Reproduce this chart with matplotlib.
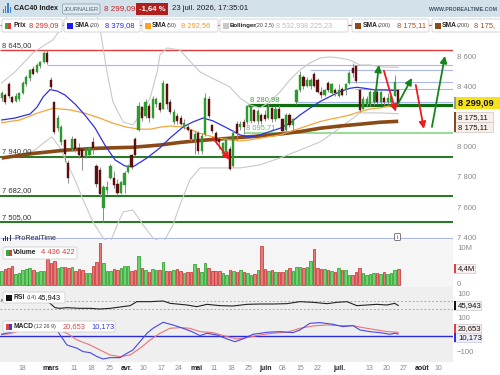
import matplotlib
matplotlib.use("Agg")
import matplotlib.pyplot as plt
import matplotlib.transforms as mtransforms
from matplotlib.patches import Rectangle, FancyBboxPatch
import numpy as np

plt.rcParams['font.family'] = ['Liberation Sans', 'DejaVu Sans']

# ---------------- data ----------------
opens = [8330,8350,8420,8335,8310,8320,8365,8420,8460,8520,
         8500,8545,8570,8630,8450,8300,8130,8035,8050,7900,
         7990,8060,7995,7990,7945,7950,8040,7880,7850,7600,
         7720,7800,7800,7760,7700,7750,7840,7950,8060,8120,
         8270,8210,8280,8200,8290,8295,8260,8420,8300,8170,
         8210,8200,8140,8140,8115,8060,8100,7980,8090,8320,
         8150,8100,8060,7960,7970,7990,7880,8160,8140,8170,
         8170,8180,8250,8180,8220,8215,8200,8265,8190,8260,
         8190,8115,8220,8150,8300,8380,8470,8410,8410,8490,
         8450,8370,8350,8430,8360,8385,8345,8390,8390,8430,
         8530,8540,8380,8260,8290,8290,8300,8370,8300,8330,
         8300,8300,8345,8380]
closes = [8360,8300,8340,8305,8345,8360,8430,8470,8515,8490,
          8550,8570,8625,8570,8400,8105,8200,8140,7960,7800,
          8060,7990,7950,7940,7990,8000,8000,7760,7690,7740,
          7740,7880,7750,7700,7775,7835,7880,7875,7955,8280,
          8200,8300,8200,8320,8320,8250,8430,8290,8235,8240,
          8175,8160,8165,8120,8060,8090,7975,8080,8330,8210,
          8110,8040,8040,8030,8050,7860,8100,8100,8160,8140,
          8275,8270,8180,8245,8180,8190,8270,8190,8260,8200,
          8110,8220,8150,8190,8380,8480,8410,8450,8450,8410,
          8370,8350,8380,8380,8420,8360,8385,8350,8420,8495,
          8495,8440,8250,8320,8320,8370,8370,8300,8370,8300,
          8330,8340,8437,8299.09]
highs = [8375,8365,8435,8345,8360,8370,8440,8480,8525,8540,
         8560,8575,8640,8645,8470,8310,8215,8150,8060,7920,
         8075,8065,8030,8000,8000,8010,8070,7890,7870,7750,
         7780,7890,7845,7790,7780,7845,7890,7960,8070,8300,
         8275,8320,8295,8340,8335,8305,8450,8430,8320,8255,
         8230,8215,8190,8160,8125,8110,8110,8100,8360,8345,
         8160,8110,8070,8040,8070,8010,8120,8175,8180,8190,
         8285,8280,8260,8255,8230,8250,8290,8270,8275,8285,
         8200,8230,8230,8200,8390,8510,8480,8470,8460,8500,
         8460,8400,8390,8440,8430,8395,8420,8400,8430,8510,
         8560,8550,8390,8340,8345,8385,8390,8385,8375,8340,
         8360,8345,8480,8385]
lows = [8310,8290,8330,8295,8300,8310,8355,8410,8445,8480,
        8495,8530,8560,8555,8380,8090,8110,8020,7905,7765,
        7980,7970,7930,7855,7930,7945,7960,7740,7670,7505,
        7690,7790,7735,7685,7690,7700,7830,7860,7945,8110,
        8180,8200,8170,8195,8270,8240,8255,8260,8225,8160,
        8160,8150,8125,8110,8045,7960,7960,7960,8080,8200,
        8095,8025,7990,7950,7960,7850,7870,8050,8120,8090,
        8160,8165,8170,8160,8160,8180,8190,8170,8180,8195,
        8095,8105,8140,8110,8290,8370,8390,8400,8390,8400,
        8360,8330,8340,8370,8350,8345,8335,8345,8350,8425,
        8470,8430,8235,8255,8270,8280,8285,8290,8290,8285,
        8290,8285,8340,8285]
volume_m = [3.81,4.36,4.72,5.09,2.91,3.36,4.09,4.27,4.72,4.09,
            3.45,3.72,3.81,6.99,6.09,6.54,4.72,4.81,4.90,4.72,
            4.81,3.72,4.45,4.09,3.36,3.36,5.27,6.18,11.35,6.09,
            3.81,3.90,4.36,4.00,4.54,5.09,5.09,3.81,4.00,7.90,
            4.54,4.00,3.45,4.27,4.09,4.09,6.27,3.81,3.81,4.18,
            4.27,3.81,3.36,3.45,3.54,5.63,4.63,3.54,5.90,4.63,
            3.72,3.81,3.81,3.36,2.72,4.09,3.90,3.54,4.09,3.63,
            3.36,2.72,3.00,4.00,10.72,4.36,3.90,4.09,3.54,3.54,
            3.54,4.00,4.54,3.90,4.99,4.90,4.63,4.81,6.54,9.81,
            4.63,4.27,4.36,4.00,3.90,3.63,4.63,4.18,4.09,2.63,
            2.72,3.45,4.63,3.27,2.72,3.00,3.18,3.36,3.09,3.45,
            3.00,3.18,4.00,4.436422]

sma20_x = [0,3.8,8.1,10.1,11.8,13.8,15.8,18.0,20.9,23.7,26.6,29.4,32.3,35.1,37.4,41.4,45.1,48.0,51.7,54.5,
           57.4,60.2,64.2,67.9,70.7,73.6,76.4,79.3,82.1,85.0,87.8,90.7,93.5,96.4,99.2,101.2,103.5,106.4,109.2,113]
sma20_y = [8184,8197,8224,8270,8337,8386,8376,8350,8290,8217,8131,8018,7919,7879,7873,7932,7999,8065,8138,8171,
           8197,8178,8131,8085,8071,8085,8107,8129,8162,8217,8262,8306,8339,8372,8394,8401,8394,8383,8383,8379.08]
sma50_x = [0,5.2,10.1,14.6,19.5,23.7,28.0,31.7,35.7,39.4,42.3,45.1,48.0,50.8,53.6,56.5,59.3,62.2,65.0,67.9,
           70.7,73.6,76.4,79.3,82.1,85.0,87.8,90.7,93.5,96.4,99.2,102.1,104.9,107.8,110.6,113]
sma50_y = [8166,8184,8229,8262,8251,8229,8196,8162,8136,8123,8123,8136,8144,8140,8123,8096,8078,8063,8052,8045,
           8052,8063,8074,8085,8107,8129,8151,8173,8189,8202,8217,8239,8257,8264,8277,8292.56]
sma200_x = [0,9,18.6,28,37.4,45.1,50.8,56.5,62.2,67.9,73.6,79.3,85,90.7,96.4,102.1,107.8,113]
sma200_y = [7932,7962,7985,7997,8003,8018,8035,8048,8058,8068,8078,8091,8107,8129,8144,8156,8169,8175.11]
boll_up_x = [0,3.8,8.9,12.3,14.6,16.6,18.6,20.9,23.7,26,27.2,28,30,31.7,34.6,37.4,39.4,42.3,44.3,45.1,
             47.1,50.8,52.8,56.5,59.3,62.2,65,67.9,70.7,73.6,76.4,79.3,82.1,85,87.8,90.7,93.5,96.4,99.2,102.1,
             104.9,107.8,113]
boll_up_y = [8430,8503,8629,8682,8715,8781,8867,8950,9000,8950,8880,8794,8503,8304,8171,8151,8217,8330,8503,8615,
             8662,8648,8595,8503,8469,8436,8403,8330,8284,8264,8304,8370,8449,8516,8562,8595,8602,8595,8582,8549,
             8549,8536,8532.93]
boll_lo_x = [0,5.2,9.5,12.3,14.3,16.6,18.6,20.9,23.2,26,28.9,30.9,32.9,34.6,37.4,40.3,43.1,46,48.8,50.8,
             53.6,56.5,62.2,67.9,73.6,79.3,85,90.7,96.4,102.1,107.8,113]
boll_lo_y = [7932,7946,7985,8038,8072,7999,7899,7786,7654,7508,7402,7369,7488,7574,7587,7488,7402,7369,7488,7621,
             7786,7866,7866,7866,7886,7932,7985,8038,8131,8231,8231,8225.23]
rsi_x = [0,0.4,5.2,9.5,12.3,13.8,15.2,16.6,18.6,22.3,25.2,28,30.9,33.7,36.6,38.5,42.3,46,48,52.8,
         55.6,58.5,62.2,65.9,69.9,73.6,77.3,81.3,85,88.7,92.7,95.5,98.4,101.2,104.1,106.9,109.8,112,113]
rsi_y = [73.5,73.5,68,70,72,56.8,35.2,31.8,35.2,31.8,31.8,28.5,31.8,38.5,45.2,65.2,65.2,68.5,56.8,48.5,
         40.2,51.8,45.2,43.5,51.8,53.5,53.5,55.2,65.2,61.8,55.2,61.8,65.2,45.2,48.5,51.8,48.5,56.8,45.943]
macd_x = [0,2.4,6.6,10.9,13.8,16,18.6,21.5,23.2,25.2,27.2,28.9,30.9,33.7,35.7,37.4,39.4,41.4,43.1,46,
          48.8,51.7,54.2,56.5,58.5,61.3,64.2,66.5,68.7,71.6,75.6,79.3,83,85,87.8,90.7,94.4,97.2,100.1,102.1,
          104.9,107.8,110.6,112,113]
macd_y = [8.7,20,40,60,65,24.3,-53.4,-72.8,-92.2,-98.1,-121.4,-135,-127.2,-127.2,-101.9,-82.5,-34,14.6,43.7,78.6,
          63.1,43.7,24.3,1,14.6,4.9,-18.4,-34,-18.4,8.7,20.4,24.3,18.4,34,72.8,76.7,67,53.4,59.2,34,
          24.3,18.4,8.7,14.6,10.173]
signal_x = [0,2.4,4.4,8.1,12.3,15.2,18.6,21.5,25.2,28,30.9,33.7,36.6,39.4,42.3,45.1,48,50.8,53.6,56.5,
            60.2,64.2,67,69.9,73.6,77.3,81.3,85,88.7,92.7,96.4,100.1,102.9,105.8,109.8,113]
signal_y = [8.7,12,24.3,40,55,40,14.6,-24.3,-53.4,-82.5,-111.7,-121.4,-111.7,-72.8,-24.3,14.6,43.7,47.6,43.7,24.3,
            18.4,-4.9,-18.4,-10.7,4.9,14.6,20.4,43.7,57.3,63.1,59.2,59.2,47.6,37.9,24.3,20.653]

tick_pos = [5.9,14.0,20.6,25.6,30.7,35.7,40.5,45.5,50.5,55.6,60.4,65.3,70.3,75.2,80.1,85.0,90.0,96.2,104.7,109.7,114.6,119.7,124.5]
tick_lab = ['18','mars','11','18','25','avr.','10','17','24','mai','11','18','25','juin','08','15','22','juil.','13','20','27','août','10']
month_labels = {'mars','avr.','mai','juin','juil.','août'}

# horizontal levels: (price, start index, colour, width)
levels = [(8814,-1,'#e23b3b',0.9),(8645,-1,'#e23b3b',1.0),(8549,12.9,'#aab6f0',0.8),(8516,87.8,'#aab6f0',0.8),
          (8433,98.4,'#aab6f0',0.8),(8388,100.7,'#aab6f0',0.8),(8304,84.1,'#aab6f0',0.8),(7400,-1,'#aab6f0',0.8),
          (8280.98,70.2,'#0e6e0e',2.3),(8095.71,69.3,'#7ad37a',1.1),
          (7940,-1,'#0e6e0e',1.3),(7682,-1,'#0e6e0e',1.3),(7505,-1,'#0e6e0e',1.3)]
level_labels = [(8645,'8 645,00'),(7940,'7 940,00'),(7682,'7 682,00'),(7505,'7 505,00')]
arrows = [(106.3,8306,107.5,8549,'#13861a'),(108.9,8511,112.3,8239,'#ee1c1c'),(112.9,8290,116.9,8463,'#13861a'),
          (118.0,8416,120.3,8125,'#ee1c1c'),(122.6,8138,126.3,8609,'#13861a'),(60.2,8065,65.0,7919,'#ee1c1c')]

# ---------------- figure ----------------
W, H = 500, 375
fig = plt.figure(figsize=(5, 3.75), dpi=100)
fig.patch.set_facecolor('white')

def rect(y0, y1, x0=0.0, x1=453.0):
    return [x0 / W, 1 - y1 / H, (x1 - x0) / W, (y1 - y0) / H]

XMIN, XMAX = -0.48, 128.6
ax = fig.add_axes(rect(17, 240))
axv = fig.add_axes(rect(240, 287))
axr = fig.add_axes(rect(287, 316))
axm = fig.add_axes(rect(316, 362))
for a, fc in ((ax, 'white'), (axv, '#f5f5f5'), (axr, '#efefef'), (axm, '#efefef')):
    a.set_xlim(XMIN, XMAX)
    a.set_facecolor(fc)
    for s in a.spines.values():
        s.set_visible(False)
    a.set_xticks([])
    a.set_yticks([])
ax.set_ylim(7388, 8867)
axv.set_ylim(-0.545e6, 12.26e6)
axr.set_ylim(-6.5, 138.5)
axm.set_ylim(-152.6, 115.3)

o = np.array(opens, float); c = np.array(closes, float)
hi = np.array(highs, float); lo = np.array(lows, float)
idx = np.arange(len(c))
up = c >= o

# levels
for p, x0, col, lw in levels:
    ax.hlines(p, max(x0, XMIN), XMAX, color=col, lw=lw, zorder=2)
tr_lab = mtransforms.blended_transform_factory(ax.transAxes, ax.transData)
for p, s in level_labels:
    ax.text(0.004, p + 10, s, transform=tr_lab, fontsize=5.4, color='#333333', va='bottom', ha='left', zorder=6)
ax.text(70.8, 8281 + 12, '8 280,98', fontsize=5.4, color='#3f9f3f', va='bottom', ha='left', zorder=6)
ax.text(69.6, 8096 + 12, '8 095,71', fontsize=5.4, color='#5cbf5c', va='bottom', ha='left', zorder=6)

# indicator lines
ax.plot(boll_up_x, boll_up_y, color='#c9c9c9', lw=0.8, zorder=2.5)
ax.plot(boll_lo_x, boll_lo_y, color='#c9c9c9', lw=0.8, zorder=2.5)
ax.plot(sma200_x, sma200_y, color='#8a4a17', lw=2.6, zorder=3, solid_capstyle='butt')
ax.plot(sma50_x, sma50_y, color='#f6a53a', lw=0.9, zorder=3)
ax.plot(sma20_x, sma20_y, color='#2f2fe6', lw=0.9, zorder=3)

# candles
body_col = np.where(up, '#2f9a2f', '#5a0e0e')
ax.vlines(idx, lo, hi, color='#8c8c8c', lw=0.7, zorder=4)
ax.bar(idx, np.maximum(np.abs(c - o), 6), bottom=np.minimum(o, c), width=0.62,
       color=body_col, edgecolor=body_col, lw=0.3, zorder=5)

for x0, y0, x1, y1, col in arrows:
    ax.annotate('', xy=(x1, y1), xytext=(x0, y0),
                arrowprops=dict(arrowstyle='-|>', color=col, lw=1.3, mutation_scale=10,
                                shrinkA=0, shrinkB=0), zorder=7)

# volume
vol = np.array(volume_m) * 1e6
axv.bar(idx, vol, width=0.72, color=np.where(up, '#6fd06f', '#e77a7a'),
        edgecolor=np.where(up, '#1f9a1f', '#c42a2a'), lw=0.5)

# RSI
axr.axhline(70, color='#aaaaaa', lw=0.7, ls=(0, (2, 2)))
axr.axhline(30, color='#aaaaaa', lw=0.7, ls=(0, (2, 2)))
axr.plot(rsi_x, rsi_y, color='#222222', lw=0.8)

# MACD
axm.axhline(0, color='#2a2ad8', lw=1.0)
axm.plot(signal_x, signal_y, color='#ea7474', lw=0.8)
axm.plot(macd_x, macd_y, color='#4646ea', lw=0.8)

# x ticks
axm.set_xticks(tick_pos)
axm.set_xticklabels(tick_lab, fontsize=5.0)
axm.tick_params(axis='x', length=0, pad=2.2)
for t in axm.get_xticklabels():
    if t.get_text() in month_labels:
        t.set_color('#222222'); t.set_fontweight('bold')
    else:
        t.set_color('#8a8a8a')

# overlay in pixel coordinates
ov = fig.add_axes([0, 0, 1, 1], zorder=10)
ov.set_xlim(0, W); ov.set_ylim(H, 0); ov.axis('off'); ov.patch.set_alpha(0)

def ypix(a, v):
    return H - a.transData.transform((0, v))[1]

def fmt(v, dec=0):
    return f"{v:,.{dec}f}".replace(',', ' ').replace('.', ',')

# right axis labels
for p in [8600, 8400, 8000, 7800, 7600, 7400]:
    ov.text(457, ypix(ax, p), fmt(p), fontsize=5.6, color='#8a8a8a', va='center', ha='left')
ov.text(457, ypix(axv, 10e6), '10M', fontsize=5.6, color='#8a8a8a', va='center')
ov.text(457, ypix(axv, 0), '0', fontsize=5.6, color='#8a8a8a', va='center')
ov.text(457, ypix(axr, 100), '100', fontsize=5.6, color='#8a8a8a', va='center')
ov.text(457, ypix(axm, 100), '100', fontsize=5.6, color='#8a8a8a', va='center')
ov.text(457, ypix(axm, -100), '\u2212100', fontsize=5.6, color='#8a8a8a', va='center')

def value_box(y, text, edge, fc, x0=454, x1=493, h=9.5, fs=5.6, bold=False, ec='#d0c8c4'):
    ov.add_patch(Rectangle((x0, y - h / 2), x1 - x0, h, fc=fc, ec=ec, lw=0.5))
    ov.add_patch(Rectangle((x0, y - h / 2), 2.2, h, fc=edge, ec='none'))
    ov.text(x0 + 4, y + 0.3, text, fontsize=fs, color='#111111', va='center', ha='left',
            fontweight='bold' if bold else 'normal')

value_box(ypix(ax, c[-1]), fmt(c[-1], 2), '#9a9a9a', '#f6e21c', x1=500, h=12, fs=6.6, bold=True, ec='none')
yb = ypix(ax, sma200_y[-1])
value_box(yb - 4.3, fmt(sma200_y[-1], 2), '#8a4a17', '#f7efe9')
value_box(yb + 5.7, fmt(sma200_y[-1], 2), '#8a4a17', '#f7efe9')
value_box(ypix(axv, vol[-1]), f"{vol[-1] / 1e6:.1f}M".replace('.', ','), '#e04040', '#fbeeee', x1=475)
value_box(ypix(axr, rsi_y[-1]), fmt(rsi_y[-1], 3), '#111111', '#f3f3f3', x1=481, ec='#c8c8c8')
value_box(ypix(axm, signal_y[-1]) - 3.6, fmt(signal_y[-1], 3), '#e04040', '#fbeeee', x1=481)
value_box(ypix(axm, macd_y[-1]) + 3.6, fmt(macd_y[-1], 3), '#3030e0', '#eeeefb', x1=481, ec='#c8c8e0')

# header
ov.add_patch(Rectangle((0, 0), W, 17, fc='#d3e1ea', ec='none'))
for k, hh in enumerate([4, 7, 10, 6]):
    ov.add_patch(Rectangle((3 + k * 2.2, 13 - hh), 1.2, hh, fc='#3b7fd0', ec='none'))
ov.text(14.5, 9, 'CAC40 Index', fontsize=5.1, fontweight='bold', color='#1c1c1c', va='center')
ov.add_patch(FancyBboxPatch((62.5, 4), 37.5, 10, boxstyle='round,pad=0,rounding_size=1.5',
                            fc='#dfe9f0', ec='#8ea4b4', lw=0.6))
ov.text(81.2, 9.2, 'JOURNALIER', fontsize=4.0, color='#4a6172', ha='center', va='center')
ov.text(104, 9, fmt(c[-1], 2), fontsize=5.8, color='#cc1f1f', va='center')
ov.add_patch(Rectangle((136, 3), 32, 12, fc='#b21d1d', ec='none'))
ov.text(152, 9.2, '-1,64 %', fontsize=5.6, fontweight='bold', color='white', ha='center', va='center')
ov.text(172, 9, '23 juil. 2026, 17:35:01', fontsize=5.6, color='#1c1c1c', va='center')
ov.text(497, 9.5, 'WWW.PROREALTIME.COM', fontsize=3.8, fontweight='bold', color='#3f5667', ha='right', va='center')

def legend_box(x0, x1, y0, y1):
    ov.add_patch(FancyBboxPatch((x0, y0), x1 - x0, y1 - y0, boxstyle='round,pad=0,rounding_size=1.5',
                                fc='white', ec='#cfcfcf', lw=0.6))

def swatch(x, y, cols):
    n = len(cols)
    for k, col in enumerate(cols):
        ov.add_patch(Rectangle((x + k * 6 / n, y - 3), 6 / n, 6, fc=col, ec='none'))

LB = 4.8   # bold label size
YL = 25.8
legend_box(2, 62, 19, 32)
swatch(5, YL, ['#3aa83a', '#e03a3a'])
ov.text(13, YL, 'Prix', fontsize=LB, fontweight='bold', color='#222', va='center')
ov.text(29, YL, fmt(c[-1], 2), fontsize=5.4, color='#d42a2a', va='center')
legend_box(64, 140, 19, 32)
swatch(67, YL, ['#1a1aff'])
ov.text(75, YL, 'SMA', fontsize=LB, fontweight='bold', color='#222', va='center')
ov.text(90, YL, '(20)', fontsize=4.0, color='#444', va='center')
ov.text(105, YL, fmt(sma20_y[-1], 2), fontsize=5.4, color='#2525e8', va='center')
legend_box(142, 218, 19, 32)
swatch(145, YL, ['#ffa020'])
ov.text(152, YL, 'SMA', fontsize=LB, fontweight='bold', color='#222', va='center')
ov.text(167, YL, '(50)', fontsize=4.0, color='#444', va='center')
ov.text(181, YL, fmt(sma50_y[-1], 2), fontsize=5.4, color='#f59a20', va='center')
legend_box(220, 348, 19, 32)
swatch(223, YL, ['#c8c8c8'])
ov.text(230, YL, 'Bollinger', fontsize=4.4, fontweight='bold', color='#222', va='center')
ov.text(255, YL, '(20 2,5)', fontsize=3.9, color='#444', va='center')
ov.text(276, YL, fmt(boll_up_y[-1], 2), fontsize=5.2, color='#bdbdbd', va='center')
ov.text(304, YL, fmt(boll_lo_y[-1], 2), fontsize=5.2, color='#bdbdbd', va='center')
legend_box(352, 429, 19, 32)
swatch(355, YL, ['#8a4a17'])
ov.text(363, YL, 'SMA', fontsize=LB, fontweight='bold', color='#222', va='center')
ov.text(378, YL, '(200)', fontsize=4.0, color='#444', va='center')
ov.text(397, YL, fmt(sma200_y[-1], 2), fontsize=5.4, color='#a0521a', va='center')
legend_box(432, 506, 19, 32)
swatch(435, YL, ['#8a4a17'])
ov.text(442, YL, 'SMA', fontsize=LB, fontweight='bold', color='#222', va='center')
ov.text(457, YL, '(200)', fontsize=4.0, color='#444', va='center')
ov.text(474, YL, fmt(sma200_y[-1], 2)[:6], fontsize=5.4, color='#a0521a', va='center')

# lower panel legends
for k, hh in enumerate([3, 5, 4, 6]):
    ov.add_patch(Rectangle((3 + k * 2.2, 240.5 - hh), 1.0, hh, fc='#333', ec='none'))
ov.text(14, 238, 'ProRealTime', fontsize=5.2, color='#333', va='center')
ov.add_patch(FancyBboxPatch((394.5, 233.5), 6, 7, boxstyle='round,pad=0,rounding_size=1',
                            fc='white', ec='#666', lw=0.6))
ov.text(397.5, 237.2, 'i', fontsize=4.5, color='#444', ha='center', va='center')

legend_box(3, 77, 247, 259)
swatch(6, 253, ['#3aa83a', '#e03a3a'])
ov.text(13, 253, 'Volume', fontsize=LB, fontweight='bold', color='#222', va='center')
ov.text(41, 253, f"{round(vol[-1]):,}".replace(',', ' '), fontsize=5.4, color='#d43a3a', va='center')
legend_box(3, 65, 292, 303)
swatch(6, 297.5, ['#111111'])
ov.text(13, 297.5, 'RSI', fontsize=LB, fontweight='bold', color='#222', va='center')
ov.text(27, 297.5, '(14)', fontsize=4.0, color='#444', va='center')
ov.text(38, 297.5, fmt(rsi_y[-1], 3), fontsize=5.4, color='#111', va='center')
legend_box(3, 115, 321, 332)
swatch(6, 326.5, ['#e04848', '#3a3ae0'])
ov.text(13, 326.5, 'MACD', fontsize=LB, fontweight='bold', color='#222', va='center')
ov.text(34, 326.5, '(12 26 9)', fontsize=4.0, color='#444', va='center')
ov.text(63, 326.5, fmt(signal_y[-1], 3), fontsize=5.4, color='#e04848', va='center')
ov.text(91, 326.5, fmt(macd_y[-1], 3), fontsize=5.4, color='#3a3ae0', va='center')

fig.savefig('out.png', dpi=100)
